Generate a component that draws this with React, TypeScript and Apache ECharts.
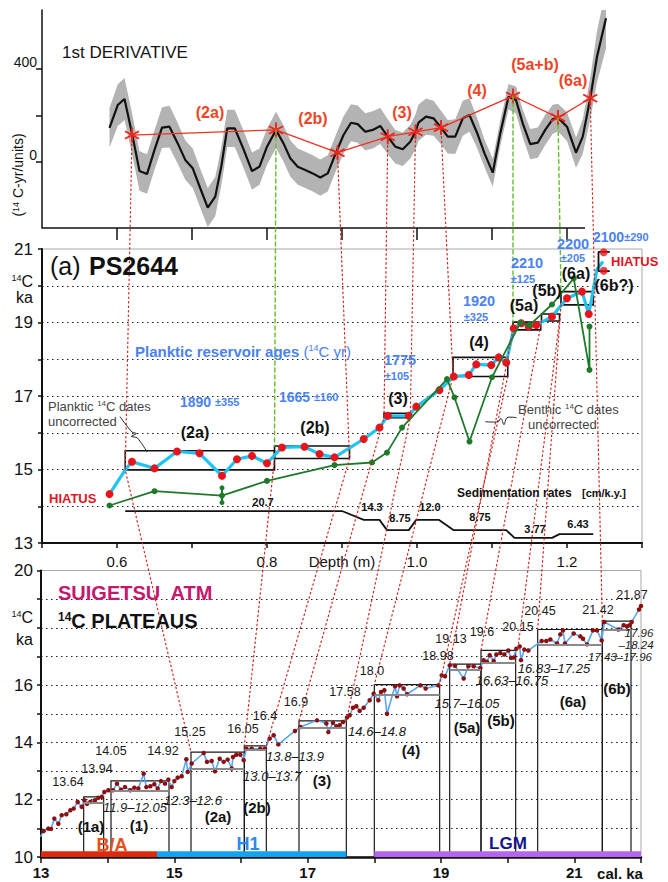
import React, { useEffect, useRef } from 'react';
import * as echarts from 'echarts';

const FONT = '"Liberation Sans", Arial, Helvetica, sans-serif';
const W = 668;
const H = 882;
const BLUE = '#4a82f2';
const RED_LBL = '#ee4426';
const HIATUS_RED = '#e3141e';

// ---------- TOP PANEL: 1st derivative [depth m, value, +/- band] ----------
const derivative = [
  [0.590, 147, 85], [0.601, 245, 90], [0.610, 271, 90], [0.620, 123, 88], [0.630, -39, 85],
  [0.640, -52, 85], [0.650, 52, 85], [0.660, 148, 88], [0.670, 152, 90], [0.681, 80, 88],
  [0.691, 9, 85], [0.701, -27, 85], [0.711, -113, 84], [0.721, -196, 84], [0.731, -149, 84],
  [0.739, -20, 82], [0.747, 145, 80], [0.757, 145, 80], [0.769, 52, 80], [0.780, -39, 80],
  [0.790, -20, 78], [0.800, 66, 78], [0.812, 138, 78], [0.822, 80, 78], [0.831, 16, 78],
  [0.841, -20, 78], [0.851, -34, 78], [0.861, -49, 78], [0.871, -67, 78], [0.881, -49, 78],
  [0.892, 40, 78], [0.902, 116, 80], [0.912, 169, 80], [0.921, 163, 80], [0.931, 130, 80],
  [0.941, 138, 80], [0.951, 155, 78], [0.961, 109, 75], [0.971, 66, 72], [0.981, 55, 72],
  [0.991, 87, 72], [0.998, 130, 75], [1.002, 169, 78], [1.012, 195, 78], [1.022, 188, 75],
  [1.032, 148, 72], [1.041, 109, 72], [1.051, 109, 75], [1.061, 188, 75], [1.070, 202, 72],
  [1.080, 126, 65], [1.090, 37, 60], [1.101, -46, 60], [1.111, 123, 55], [1.122, 281, 55],
  [1.132, 267, 58], [1.141, 166, 60], [1.151, 77, 65], [1.161, 83, 65], [1.171, 138, 65],
  [1.181, 184, 62], [1.188, 191, 60], [1.200, 152, 62], [1.212, 40, 65], [1.221, 109, 75],
  [1.231, 274, 90], [1.240, 453, 110], [1.252, 618, 130],
];
const derivStars = [
  [0.620, 116], [0.812, 138], [0.894, 40], [0.961, 109], [0.998, 130],
  [1.032, 148], [1.128, 284], [1.188, 191], [1.231, 274],
];
const derivAxisEnd = 1.224;

// ---------- MIDDLE PANEL: PS2644 ----------
const planktic = [
  [0.590, 14.33], [0.611, 14.99], [0.620, 15.21], [0.650, 15.03], [0.680, 15.49], [0.710, 15.44],
  [0.740, 14.83], [0.760, 15.28], [0.780, 15.37], [0.800, 15.17], [0.820, 15.60], [0.850, 15.62],
  [0.870, 15.42], [0.890, 15.33], [0.929, 15.83], [0.950, 16.14], [0.961, 16.46], [0.989, 16.46],
  [0.999, 16.71], [1.030, 17.16], [1.049, 17.53], [1.069, 17.57], [1.079, 17.86], [1.099, 17.84],
  [1.109, 18.05], [1.119, 17.91], [1.129, 18.84], [1.139, 18.98], [1.149, 18.89], [1.159, 18.93],
  [1.180, 19.16], [1.200, 19.66], [1.220, 19.84], [1.229, 19.23], [1.240, 20.45], [1.248, 20.66],
];
const plankticNoDot = [1, 34, 35];
const plankticHiatus = [[1.249, 20.91], [1.249, 20.41]];
const hiatusBracket = [[1.257, 20.92], [1.242, 20.92], [1.242, 20.40], [1.257, 20.40]];
const benthic = [
  [0.590, 14.02], [0.650, 14.41], [0.740, 14.29], [0.800, 14.69], [0.890, 15.12], [0.940, 15.19],
  [0.960, 15.46], [0.980, 16.14], [1.040, 17.46], [1.050, 16.96], [1.070, 15.76], [1.100, 17.51],
  [1.138, 19.00], [1.150, 18.93], [1.180, 19.49], [1.209, 20.20], [1.230, 17.71], [1.230, 18.89],
];
const benthicErr = [[0.740, 14.50], [0.740, 14.10]];
const sedRate = [
  [0.611, 13.87], [0.900, 13.87], [0.929, 13.63], [0.950, 13.63], [0.960, 13.35], [0.989, 13.35],
  [0.999, 13.63], [1.029, 13.63], [1.049, 13.35], [1.119, 13.35], [1.130, 13.14], [1.180, 13.14],
  [1.190, 13.24], [1.235, 13.24],
];
const boxFrom = [0.611, 0.810, 0.956, 1.048, 1.128, 1.166, 1.192];
const boxTo = [0.810, 0.910, 0.991, 1.121, 1.165, 1.190, 1.235];
const boxLow = [14.99, 15.30, 16.41, 17.53, 18.80, 19.04, 19.48];
const boxHigh = [15.51, 15.64, 16.53, 18.05, 19.01, 19.23, 19.84];

// ---------- BOTTOM PANEL: Suigetsu [cal ka, 14C ka] ----------
const suigetsu = [
  [12.99, 10.70], [13.04, 10.91], [13.11, 10.99], [13.15, 10.98], [13.20, 11.34], [13.26, 11.16],
  [13.31, 11.46], [13.38, 11.49], [13.44, 11.63], [13.49, 11.69], [13.55, 11.92], [13.61, 11.75],
  [13.65, 11.98], [13.69, 11.86], [13.74, 11.92], [13.81, 11.98], [13.86, 12.07], [13.91, 12.10],
  [13.95, 12.27], [14.01, 12.33], [14.08, 12.33], [14.14, 12.56], [14.20, 12.35], [14.26, 12.44],
  [14.34, 12.33], [14.40, 12.42], [14.46, 12.39], [14.54, 12.91], [14.58, 12.44], [14.64, 12.47],
  [14.70, 12.54], [14.75, 12.39], [14.80, 12.65], [14.86, 12.56], [14.91, 12.70], [14.96, 12.44],
  [15.00, 12.65], [15.05, 12.77], [15.11, 12.82], [15.18, 13.41], [15.20, 12.97], [15.26, 13.26],
  [15.44, 13.63], [15.49, 13.32], [15.56, 13.35], [15.61, 12.99], [15.68, 13.43], [15.74, 13.32],
  [15.80, 13.40], [15.86, 13.09], [15.88, 13.49], [15.93, 13.57], [15.99, 13.57], [16.04, 13.38],
  [16.08, 13.78], [16.16, 13.78], [16.29, 13.78], [16.36, 13.78], [16.43, 14.13], [16.49, 14.25],
  [16.56, 13.93], [16.81, 14.40], [16.89, 14.54], [17.14, 14.77], [17.28, 14.66], [17.31, 14.36],
  [17.38, 14.68], [17.43, 14.56], [17.48, 14.60], [17.53, 14.71], [17.59, 14.87], [17.63, 14.95],
  [17.68, 15.21], [17.73, 15.26], [17.78, 15.10], [17.84, 15.21], [17.93, 15.47], [17.99, 15.70],
  [18.06, 15.47], [18.10, 15.76], [18.15, 15.82], [18.19, 15.00], [18.31, 15.96], [18.34, 15.61],
  [18.38, 15.99], [18.44, 15.88], [18.49, 15.68], [18.69, 15.99], [18.77, 15.88], [18.96, 15.99],
  [19.01, 16.34], [19.06, 16.31], [19.13, 16.69], [19.21, 16.67], [19.34, 16.23], [19.41, 16.66],
  [19.49, 16.66], [19.59, 16.60], [19.64, 16.87], [19.69, 16.81], [19.73, 17.04], [19.79, 16.84],
  [19.83, 17.07], [19.89, 17.12], [19.95, 17.07], [20.01, 17.21], [20.05, 16.95], [20.09, 16.96],
  [20.13, 17.27], [20.18, 17.35], [20.20, 16.87], [20.25, 17.24], [20.31, 17.21], [20.51, 17.54],
  [20.58, 17.54], [20.64, 17.59], [20.74, 17.45], [20.79, 17.77], [20.83, 17.91], [20.86, 17.45],
  [20.99, 17.80], [21.09, 17.70], [21.13, 17.62], [21.19, 17.42], [21.28, 17.91], [21.34, 17.91],
  [21.41, 17.56], [21.45, 18.20], [21.66, 17.94], [21.74, 18.09], [21.79, 18.05], [21.83, 18.09],
  [21.86, 18.20], [21.97, 18.64], [22.00, 18.76],
];
const plateauFrom = [13.64, 14.05, 15.25, 16.05, 16.87, 18.0, 19.13, 19.6, 20.45, 21.42];
const plateauTo = [13.94, 14.92, 16.05, 16.38, 17.58, 18.98, 19.6, 20.12, 21.42, 21.85];
const plateauLow = [11.9, 12.3, 13.07, 13.76, 14.52, 15.67, 16.54, 16.79, 17.41, 17.94];
const plateauHigh = [12.10, 12.66, 13.66, 13.88, 14.75, 16.02, 16.73, 17.21, 17.94, 18.23];
const eraFrom = [13.0, 14.74, 18.0];
const eraTo = [14.74, 17.58, 22.0];
const eraColor = ['#de2a0c', '#12a3f2', '#b565f0'];

// dotted correlation lines: top star -> PS2644 point -> Suigetsu point
const links = [
  { star: 0, mid: [0.611, 14.99], bot: [15.25, 13.66], kind: 'r' },
  { star: 1, mid: [0.810, 15.64], bot: null, kind: 'g' },
  { star: -1, mid: [0.810, 15.30], bot: [16.05, 13.88], kind: 'r' },
  { star: 2, mid: [0.910, 15.30], bot: [16.38, 13.88], kind: 'r' },
  { star: 3, mid: [0.956, 16.41], bot: [16.87, 14.75], kind: 'r' },
  { star: 4, mid: [0.991, 16.41], bot: [17.58, 14.75], kind: 'r' },
  { star: 5, mid: [1.048, 17.53], bot: [18.00, 16.02], kind: 'r' },
  { star: -1, mid: [1.121, 17.53], bot: [18.98, 16.02], kind: 'r' },
  { star: 6, mid: [1.128, 19.01], bot: null, kind: 'g' },
  { star: -1, mid: [1.128, 18.80], bot: [19.13, 16.73], kind: 'r' },
  { star: -1, mid: [1.166, 19.04], bot: [19.60, 17.21], kind: 'r' },
  { star: -1, mid: [1.190, 19.04], bot: [20.15, 17.21], kind: 'r' },
  { star: 7, mid: [1.192, 19.84], bot: null, kind: 'g' },
  { star: -1, mid: [1.192, 19.48], bot: [20.45, 17.94], kind: 'r' },
  { star: 8, mid: null, bot: [21.42, 18.23], kind: 'r' },
];
const plankticLeader = [[0.604, 16.44], [0.620, 16.02], [0.626, 15.98], [0.619, 15.90], [0.627, 15.86], [0.640, 15.48]];
const benthicLeader = [[1.091, 16.30], [1.108, 16.30], [1.112, 16.39], [1.116, 16.22], [1.120, 16.41], [1.133, 16.41]];

const STAR =
  'path://M-1.2,-10L1.2,-10L1.2,10L-1.2,10Z M8.06,-6.04L9.26,-3.96L-8.06,6.04L-9.26,3.96Z M9.26,3.96L8.06,6.04L-9.26,-3.96L-8.06,-6.04Z';

function axisText(size: number, bold = false) {
  return { fontSize: size, fontFamily: FONT, color: '#111', fontWeight: bold ? 'bold' : 'normal' };
}

function buildOption(): any {
  const dotted = { type: [1.5, 3.5], color: '#222', width: 1.2 };
  return {
    animation: false,
    backgroundColor: '#fff',
    grid: [
      { left: 42, top: 10, width: 600, height: 218, show: false },
      { left: 42, top: 249, width: 600, height: 294, show: true, borderColor: '#a8a8a8', borderWidth: 1, backgroundColor: 'transparent' },
      { left: 41, top: 570.5, width: 600, height: 286.5, show: true, borderColor: '#a8a8a8', borderWidth: 1, backgroundColor: 'transparent' },
    ],
    xAxis: [
      {
        type: 'value', gridIndex: 0, min: 0.5, max: 1.3, interval: 0.1,
        axisLine: { show: false, onZero: false },
        axisTick: { show: true, customValues: [0.6, 0.7, 0.8, 0.9, 1.0, 1.1, 1.2], length: 12, lineStyle: { color: '#111', width: 1.5 } },
        axisLabel: { show: false }, splitLine: { show: false },
      },
      {
        type: 'value', gridIndex: 1, min: 0.5, max: 1.3, interval: 0.1,
        axisLine: { show: true, onZero: false, lineStyle: { color: '#111', width: 2 } },
        axisTick: { show: true, length: 5, lineStyle: { color: '#111', width: 1.5 } },
        axisLabel: {
          ...axisText(15), margin: 11,
          formatter: (v: number) => {
            const r = Math.round(v * 10);
            const m: Record<number, string> = { 6: '0.6', 8: '0.8', 9: 'Depth (m)', 10: '1.0', 12: '1.2' };
            return m[r] || '';
          },
        },
        splitLine: { show: false },
      },
      {
        type: 'value', gridIndex: 2, min: 13, max: 22, interval: 1,
        axisLine: { show: true, onZero: false, lineStyle: { color: '#111', width: 2.5 } },
        axisTick: { show: true, length: 6, lineStyle: { color: '#111', width: 1.5 } },
        axisLabel: {
          ...axisText(15, true), margin: 8,
          formatter: (v: number) => {
            const r = Math.round(v);
            return r % 2 === 1 && r < 22 ? String(r) : '';
          },
        },
        splitLine: { show: false },
      },
    ],
    yAxis: [
      {
        type: 'value', gridIndex: 0, min: -284, max: 654,
        axisLine: { show: true, onZero: false, lineStyle: { color: '#111', width: 1.5 } },
        axisTick: { show: true, customValues: [0, 200, 400], length: 6, lineStyle: { color: '#111', width: 1.5 } },
        axisLabel: { ...axisText(14), customValues: [0, 400], margin: 5, verticalAlign: 'bottom' },
        splitLine: { show: false },
      },
      {
        type: 'value', gridIndex: 1, min: 13, max: 21, interval: 1,
        axisLine: { show: true, onZero: false, lineStyle: { color: '#111', width: 2 } },
        axisTick: { show: true, length: 4, lineStyle: { color: '#111', width: 1.5 } },
        axisLabel: { ...axisText(17), margin: 9, formatter: (v: number) => (Math.round(v) % 2 === 1 ? String(Math.round(v)) : '') },
        splitLine: { show: true, showMinLine: false, showMaxLine: false, lineStyle: dotted },
      },
      {
        type: 'value', gridIndex: 2, min: 10, max: 20, interval: 1,
        axisLine: { show: true, onZero: false, lineStyle: { color: '#111', width: 2 } },
        axisTick: { show: true, length: 4, lineStyle: { color: '#111', width: 1.5 } },
        axisLabel: { ...axisText(17), margin: 8, formatter: (v: number) => ([10, 12, 14, 16, 20].includes(Math.round(v)) ? String(Math.round(v)) : '') },
        splitLine: { show: true, showMinLine: false, showMaxLine: false, lineStyle: dotted },
      },
    ],
    series: [
      // gray uncertainty band
      {
        type: 'custom', xAxisIndex: 0, yAxisIndex: 0, silent: true, clip: true, z: 1,
        data: [[0.9, 0]],
        renderItem: (_p: any, api: any) => {
          const up = derivative.map((d) => api.coord([d[0], d[1] + d[2]]));
          const lo = derivative.slice().reverse().map((d) => api.coord([d[0], d[1] - d[2]]));
          return { type: 'polygon', shape: { points: up.concat(lo) }, style: { fill: '#b3b3b3' } };
        },
      },
      {
        type: 'line', xAxisIndex: 0, yAxisIndex: 0, silent: true, symbol: 'none', z: 3,
        data: derivative.map((d) => [d[0], d[1]]),
        lineStyle: { color: '#111', width: 2.2 },
        markLine: {
          silent: true, symbol: ['none', 'none'], label: { show: false },
          lineStyle: { color: '#111', width: 1.5, type: 'solid' },
          data: [[{ coord: [0.5, -284] }, { coord: [derivAxisEnd, -284] }]],
        },
      },
      {
        type: 'line', xAxisIndex: 0, yAxisIndex: 0, silent: true, z: 4,
        data: derivStars, symbol: STAR, symbolSize: 15,
        lineStyle: { color: '#ee3322', width: 1.3 }, itemStyle: { color: '#f0261a' },
      },
      // PS2644 planktic
      {
        type: 'line', xAxisIndex: 1, yAxisIndex: 1, silent: true, z: 3,
        data: planktic.map((p, i) => ({ value: p, symbol: plankticNoDot.includes(i) ? 'none' : 'circle' })),
        symbolSize: 8, lineStyle: { color: '#1fc4f2', width: 3.2 }, itemStyle: { color: '#e8141c' },
        markArea: {
          silent: true, label: { show: false },
          itemStyle: { color: 'rgba(0,0,0,0)', borderColor: '#111', borderWidth: 1.6 },
          data: boxFrom.map((_, i) => [{ coord: [boxFrom[i], boxLow[i]] }, { coord: [boxTo[i], boxHigh[i]] }]),
        },
      },
      {
        type: 'line', xAxisIndex: 1, yAxisIndex: 1, silent: true, z: 4,
        data: benthic, symbol: 'circle', symbolSize: 6,
        lineStyle: { color: '#1e7a2a', width: 1.8 }, itemStyle: { color: '#1e7a2a' },
      },
      {
        type: 'line', xAxisIndex: 1, yAxisIndex: 1, silent: true, z: 4,
        data: benthicErr, symbol: 'circle', symbolSize: 5,
        lineStyle: { color: '#1e7a2a', width: 2 }, itemStyle: { color: '#1e7a2a' },
      },
      {
        type: 'line', xAxisIndex: 1, yAxisIndex: 1, silent: true, z: 3,
        data: sedRate, symbol: 'none', lineStyle: { color: '#111', width: 1.8 },
      },
      {
        type: 'line', xAxisIndex: 1, yAxisIndex: 1, silent: true, z: 3,
        data: hiatusBracket, symbol: 'none', lineStyle: { color: '#111', width: 1.8 },
      },
      {
        type: 'scatter', xAxisIndex: 1, yAxisIndex: 1, silent: true, z: 5,
        data: plankticHiatus, symbolSize: 8, itemStyle: { color: '#e8141c' },
      },
      // Suigetsu
      {
        type: 'line', xAxisIndex: 2, yAxisIndex: 2, silent: true, z: 3,
        data: suigetsu, symbol: 'circle', symbolSize: 4.5,
        lineStyle: { color: '#5aa6f4', width: 1.6 }, itemStyle: { color: '#8c0f0f' },
        markArea: {
          silent: true, label: { show: false },
          data: [
            ...plateauFrom.map((_, i) => [
              { coord: [plateauFrom[i], 10], itemStyle: { color: 'rgba(0,0,0,0)', borderColor: '#1a1a1a', borderWidth: 1.2 } },
              { coord: [plateauTo[i], plateauHigh[i]] },
            ]),
            ...eraFrom.map((_, i) => [
              { coord: [eraFrom[i], 10], itemStyle: { color: eraColor[i], borderWidth: 0 } },
              { coord: [eraTo[i], 10.2] },
            ]),
          ],
        },
        markLine: {
          silent: true, symbol: ['none', 'none'], label: { show: false },
          lineStyle: { color: '#8a8a8a', width: 2, type: 'solid' },
          data: plateauFrom.map((_, i) => [{ coord: [plateauFrom[i], plateauLow[i]] }, { coord: [plateauTo[i], plateauLow[i]] }]),
        },
      },
    ],
  };
}

type TOpt = { size?: number; bold?: boolean; italic?: boolean; color?: string; align?: string; rot?: number; rich?: any };
function T(x: number, y: number, text: string, o: TOpt = {}) {
  return {
    type: 'text', x, y, rotation: o.rot || 0, silent: true, z: 100,
    style: {
      text, fill: o.color || '#111', fontSize: o.size || 14, fontFamily: FONT,
      fontWeight: o.bold ? 'bold' : 'normal', fontStyle: o.italic ? 'italic' : 'normal',
      textAlign: o.align || 'center', textVerticalAlign: 'middle', rich: o.rich,
    },
  };
}
function sup(color: string, size = 9, bold = false) {
  return { s: { fontSize: size, verticalAlign: 'top', fill: color, fontFamily: FONT, fontWeight: bold ? 'bold' : 'normal' } };
}

function buildGraphics(chart: any): any[] {
  const px = (g: number, p: number[]) => chart.convertToPixel({ xAxisIndex: g, yAxisIndex: g }, p);
  const g: any[] = [];

  links.forEach((l) => {
    const pts: number[][] = [];
    if (l.star >= 0) pts.push(px(0, derivStars[l.star]));
    if (l.mid) pts.push(px(1, l.mid));
    if (l.bot) pts.push(px(2, l.bot));
    const green = l.kind === 'g';
    g.push({
      type: 'polyline', silent: true, z: 40, shape: { points: pts },
      style: {
        fill: null, stroke: green ? '#62c02a' : '#cc2a20', lineWidth: green ? 1.4 : 1.2,
        lineDash: green ? [4, 3] : [1.5, 3], lineCap: 'round',
      },
    });
  });
  [plankticLeader, benthicLeader].forEach((ld) => {
    g.push({
      type: 'polyline', silent: true, z: 40, shape: { points: ld.map((p) => px(1, p)), smooth: 0.3 },
      style: { fill: null, stroke: '#222', lineWidth: 1 },
    });
  });

  // top panel texts
  g.push(T(62, 52, '1st DERIVATIVE', { size: 17, align: 'left', color: '#151515' }));
  g.push(T(18, 175, '({s|14} C-yr/units)', { size: 14, rot: Math.PI / 2, rich: sup('#111', 9) }));
  const redLbl: [number, number, string][] = [
    [210, 112, '(2a)'], [313, 118, '(2b)'], [402, 112, '(3)'], [477, 90, '(4)'], [535, 64, '(5a+b)'], [573, 80, '(6a)'],
  ];
  redLbl.forEach(([x, y, t]) => g.push(T(x, y, t, { size: 16, bold: true, color: RED_LBL })));

  // middle panel texts
  g.push(T(50, 266, '(a)', { size: 25, align: 'left' }));
  g.push(T(89, 266, 'PS2644', { size: 25, bold: true, align: 'left' }));
  g.push(T(33, 281, '{s|14}C', { size: 16, align: 'right', rich: sup('#111', 9) }));
  g.push(T(33, 297, 'ka', { size: 16, align: 'right' }));
  g.push(T(135, 351, 'Planktic reservoir ages {n|(}{s|14}{n|C yr)}', {
    size: 15, bold: true, align: 'left', color: BLUE,
    rich: { ...sup(BLUE, 9), n: { fontSize: 15, fill: BLUE, fontFamily: FONT, fontWeight: 'normal' } },
  }));
  const mRich = { m: { fontSize: 11, fill: BLUE, fontFamily: FONT, fontWeight: 'bold' } };
  g.push(T(180, 402, '1890 {m|±355}', { size: 14, bold: true, align: 'left', color: BLUE, rich: mRich }));
  g.push(T(279, 397, '1665 {m|±160}', { size: 14, bold: true, align: 'left', color: BLUE, rich: mRich }));
  g.push(T(593, 237, '2100{m|±290}', { size: 14, bold: true, align: 'left', color: BLUE, rich: mRich }));
  const blueBig: [number, number, string][] = [[400, 360, '1775'], [479, 301, '1920'], [527, 263, '2210'], [573, 243.5, '2200']];
  blueBig.forEach(([x, y, t]) => g.push(T(x, y, t, { size: 14.5, bold: true, color: BLUE })));
  const blueSmall: [number, number, string][] = [[397, 376, '±105'], [476, 317, '±325'], [523, 279, '±125'], [573, 257.5, '±205']];
  blueSmall.forEach(([x, y, t]) => g.push(T(x, y, t, { size: 11, bold: true, color: BLUE })));
  const midLbl: [number, number, string][] = [
    [195, 432, '(2a)'], [315, 427, '(2b)'], [398, 398, '(3)'], [479, 342, '(4)'], [524, 305, '(5a)'],
    [547, 290, '(5b)'], [576, 273, '(6a)'], [614, 285, '(6b?)'],
  ];
  midLbl.forEach(([x, y, t]) => g.push(T(x, y, t, { size: 16, bold: true })));
  g.push(T(48, 406, 'Planktic {s|14}C dates', { size: 13, align: 'left', color: '#444', rich: sup('#444', 8) }));
  g.push(T(48, 421, 'uncorrected', { size: 13, align: 'left', color: '#444' }));
  g.push(T(518, 409, 'Benthic {s|14}C dates', { size: 13, align: 'left', color: '#444', rich: sup('#444', 8) }));
  g.push(T(528, 424, 'uncorrected', { size: 13, align: 'left', color: '#444' }));
  g.push(T(49, 498, 'HIATUS', { size: 13, bold: true, align: 'left', color: HIATUS_RED }));
  g.push(T(611, 261, 'HIATUS', { size: 13, bold: true, align: 'left', color: HIATUS_RED }));
  g.push(T(263, 502, '20.7', { size: 11, bold: true }));
  const sedLbl: [number, number, string][] = [
    [372, 507, '14.3'], [400, 518, '8.75'], [430, 507, '12.0'], [480, 517, '8.75'], [535, 529, '3.77'], [578, 524, '6.43'],
  ];
  sedLbl.forEach(([x, y, t]) => g.push(T(x, y, t, { size: 11, bold: true })));
  g.push(T(457, 493, 'Sedimentation rates', { size: 12, bold: true, align: 'left' }));
  g.push(T(582, 493, '[cm/k.y.]', { size: 11, bold: true, align: 'left' }));

  // bottom panel texts
  g.push(T(58, 593, 'SUIGETSU  ATM', { size: 20, bold: true, align: 'left', color: '#c4186c' }));
  g.push(T(58, 621, '{s|14}C PLATEAUS', { size: 20, bold: true, align: 'left', rich: sup('#111', 12, true) }));
  g.push(T(33, 617, '{s|14}C', { size: 16, align: 'right', rich: sup('#111', 9) }));
  g.push(T(33, 639, 'ka', { size: 16, align: 'right' }));
  const ages: [number, number, string][] = [
    [68, 782, '13.64'], [97, 769, '13.94'], [111, 751, '14.05'], [163, 751, '14.92'], [190, 732, '15.25'],
    [243, 729, '16.05'], [265, 716, '16.4'], [296, 702, '16.9'], [345, 692, '17.58'], [372, 671, '18.0'],
    [438, 656, '18.98'], [451, 639, '19.13'], [482, 632, '19.6'], [518, 627, '20.15'], [540, 611, '20.45'],
    [598, 610, '21.42'], [632, 595, '21.87'],
  ];
  ages.forEach(([x, y, t]) => g.push(T(x, y, t, { size: 12.5, color: '#1a1a1a' })));
  const ranges: [number, number, string][] = [
    [135, 807, '11.9–12.05'], [193, 800, '12.3–12.6'], [272, 776, '13.0–13.7'], [295, 756, '13.8–13.9'],
    [377, 731, '14.6–14.8'], [467, 703, '15.7–16.05'], [512, 680, '16.63–16.75'], [554, 668, '16.83–17.25'],
  ];
  ranges.forEach(([x, y, t]) => g.push(T(x, y, t, { size: 13, italic: true, color: '#1a1a1a' })));
  const stacked: [number, number, string][] = [[639, 632.5, '17.96'], [636, 644.5, '–18.24'], [620, 656.5, '17.43–17.96']];
  stacked.forEach(([x, y, t]) => g.push(T(x, y, t, { size: 11.5, italic: true, color: '#1a1a1a' })));
  const plat: [number, number, string][] = [
    [91, 826, '(1a)'], [139, 825, '(1)'], [218, 816, '(2a)'], [257, 807, '(2b)'], [322, 780, '(3)'],
    [411, 750, '(4)'], [467, 727, '(5a)'], [501, 720, '(5b)'], [573, 701, '(6a)'], [617, 688, '(6b)'],
  ];
  plat.forEach(([x, y, t]) => g.push(T(x, y, t, { size: 15, bold: true })));
  g.push(T(112, 845, 'B/A', { size: 18, bold: true, color: '#e8501a' }));
  g.push(T(248, 844, 'H1', { size: 18, bold: true, color: '#2a8af0' }));
  g.push(T(508, 843, 'LGM', { size: 17, bold: true, color: '#14148c' }));
  g.push(T(620, 873, 'cal. ka', { size: 15, bold: true }));
  return g;
}

export default function App() {
  const ref = useRef<HTMLDivElement>(null);
  useEffect(() => {
    if (!ref.current) return;
    const chart = echarts.init(ref.current, null, { renderer: 'svg' });
    chart.setOption(buildOption());
    chart.setOption({ graphic: buildGraphics(chart) });
    return () => chart.dispose();
  }, []);
  return <div ref={ref} style={{ position: 'absolute', left: 0, top: 0, width: W, height: H, background: '#fff' }} />;
}
